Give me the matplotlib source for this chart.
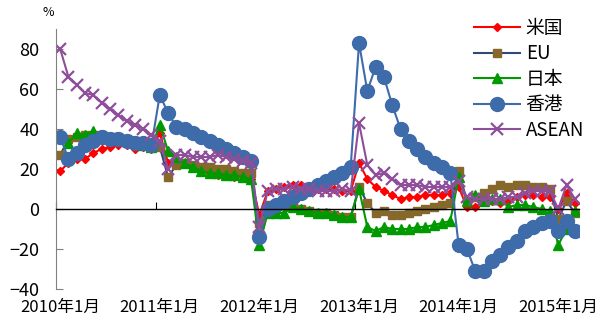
import matplotlib
matplotlib.use('Agg')
import matplotlib.pyplot as plt
import numpy as np

plt.rcParams['font.family'] = ['Noto Sans CJK JP', 'DejaVu Sans']

# monthly series, Jan 2010 - Mar 2015 (%)
us = [19, 23, 25, 25, 28, 30, 31, 32, 32, 30, 31, 30,
      38, 23, 24, 23, 21, 19, 18, 17, 17, 16, 16, 15,
      -3, 9, 10, 11, 12, 12, 11, 10, 10, 10, 9, 9,
      23, 15, 11, 9, 7, 5, 6, 6, 7, 7, 7, 8,
      11, 1, 1, 4, 4, 3, 4, 6, 7, 7, 6, 6,
      0, 8, 3]
eu = [27, 35, 36, 37, 37, 37, 36, 36, 35, 34, 33, 32,
      31, 16, 22, 23, 22, 21, 21, 20, 20, 19, 18, 18,
      -7, 2, 1, 2, 1, 0, -1, -2, -2, -3, -4, -4,
      11, 3, -2, -1, -3, -3, -2, -1, 0, 1, 2, 3,
      19, 4, 6, 8, 10, 12, 11, 12, 12, 11, 11, 10,
      -5, 4, -2]
japan = [36, 33, 38, 37, 39, 37, 36, 35, 34, 33, 32, 31,
         42, 29, 26, 23, 21, 19, 18, 18, 17, 17, 16, 15,
         -18, -2, -2, -2, 1, 0, -1, -2, -2, -3, -4, -4,
         10, -9, -11, -9, -10, -10, -10, -9, -9, -8, -7, -6,
         16, 4, 7, 4, 5, 5, 1, 2, 2, 1, 0, -1,
         -18, -10, -1]
hongkong = [36, 25, 28, 32, 34, 36, 35, 35, 34, 33, 33, 32,
            57, 48, 41, 40, 38, 36, 34, 32, 30, 28, 26, 24,
            -14, 0, 2, 4, 6, 8, 10, 12, 14, 16, 18, 21,
            83, 59, 71, 66, 52, 40, 34, 30, 26, 23, 21, 18,
            -18, -20, -31, -31, -26, -23, -19, -16, -11, -9, -7, -6,
            -11, -6, -11]
asean = [80, 66, 62, 58, 57, 53, 50, 47, 44, 42, 40, 37,
         34, 20, 27, 27, 26, 26, 26, 27, 26, 25, 24, 23,
         -9, 9, 10, 10, 11, 10, 10, 9, 9, 9, 10, 9,
         43, 22, 17, 18, 15, 12, 12, 12, 11, 11, 11, 11,
         14, 6, 5, 5, 5, 5, 6, 6, 8, 9, 9, 9,
         0, 12, 5]

year_labels = ['2010年1月', '2011年1月', '2012年1月', '2013年1月', '2014年1月', '2015年1月']

n = len(us)
x = np.arange(n)

fig = plt.figure(figsize=(6.05, 3.22), dpi=100)
ax = fig.add_axes([0.0926, 0.1025, 0.8644, 0.8075])

ax.plot(x, us, color='#FF0000', lw=1.5, marker='D', ms=4.5, label='米国')
ax.plot(x, eu, color='#2E4A7A', lw=1.5, marker='s', ms=6, mfc='#86692A', mec='#86692A', label='EU')
ax.plot(x, japan, color='#009900', lw=1.5, marker='^', ms=6.5, label='日本')
ax.plot(x, hongkong, color='#3E6BAA', lw=1.5, marker='o', ms=10, label='香港')
ax.plot(x, asean, color='#8E4E99', lw=1.5, marker='x', ms=8, mew=1.6, label='ASEAN')

ax.set_xlim(-0.5, n - 0.5)
ax.set_ylim(-40, 90)
ax.set_yticks(np.arange(-40, 81, 20))
ax.tick_params(axis='y', direction='in', length=5, labelsize=13, color='#808080', pad=12)

for side in ['top', 'right']:
    ax.spines[side].set_visible(False)
ax.spines['left'].set_color('#808080')
ax.spines['bottom'].set_position(('data', 0))
ax.spines['bottom'].set_color('black')
ax.spines['bottom'].set_linewidth(1.0)

# year boundary ticks on the zero line
ax.set_xticks(np.arange(-0.5, n, 12))
ax.tick_params(axis='x', direction='in', length=5, labelbottom=False)

# month labels at the bottom edge
sec = ax.secondary_xaxis(0.0)
sec.set_xticks(np.arange(0, n, 12))
sec.set_xticklabels(year_labels)
sec.tick_params(length=0, labelsize=12, pad=7)
sec.spines['bottom'].set_visible(False)

fig.text(0.07, 0.96, '%', fontsize=9, ha='left', va='center')

ax.legend(loc='upper left', bbox_to_anchor=(0.765, 0.98), bbox_transform=fig.transFigure,
          frameon=False, fontsize=13.5, handlelength=2.45, labelspacing=0.24,
          handletextpad=0.3, borderaxespad=0.2)

fig.savefig('out.png', dpi=100)
